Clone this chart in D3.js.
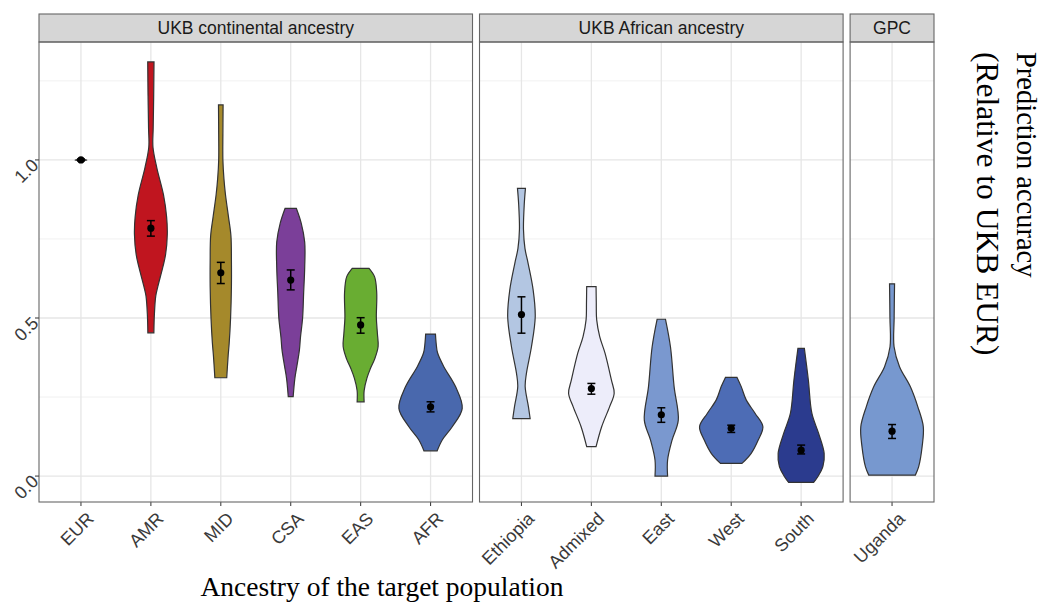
<!DOCTYPE html>
<html>
<head>
<meta charset="utf-8">
<script src="https://cdn.jsdelivr.net/npm/d3@7"></script>
<style>
  body { margin: 0; background: #fff; }
  svg text { font-family: "Liberation Sans", Arial, sans-serif; }
</style>
</head>
<body>
<svg id="chart" width="1043" height="603"></svg>
<script>
// paneles y categorías
const panels = ["UKB continental ancestry", "UKB African ancestry", "GPC"];
const groups = ["EUR", "AMR", "MID", "CSA", "EAS", "AFR", "Ethiopia", "Admixed", "East", "West", "South", "Uganda"];
const panelOf = [0, 0, 0, 0, 0, 0, 1, 1, 1, 1, 1, 2];
const fills = ["#111111", "#c0151f", "#a5892b", "#7b3f99", "#69ad32", "#4968ad",
               "#b3c6e2", "#ededfa", "#7a98cf", "#4d6cb5", "#2b3b8e", "#7798cf"];

// media y error estándar (relativo a UKB EUR)
const means = [1.000, 0.784, 0.643, 0.620, 0.478, 0.219, 0.511, 0.277, 0.194, 0.151, 0.082, 0.142];
const lower = [0.997, 0.759, 0.609, 0.589, 0.452, 0.203, 0.452, 0.259, 0.170, 0.138, 0.070, 0.119];
const upper = [1.003, 0.808, 0.676, 0.652, 0.501, 0.235, 0.567, 0.293, 0.216, 0.161, 0.098, 0.163];

// perfiles de violín: [valor, media anchura en unidades de categoría]
const violins = [
  [[1.003, 0.0], [1.0, 0.085], [0.997, 0.0]],
  [[1.31, .045], [1.20, .04], [1.10, .033], [1.04, .03], [0.975, .085], [0.89, .18], [0.82, .225], [0.765, .235], [0.70, .21], [0.66, .17], [0.60, .10], [0.57, .07], [0.51, .05], [0.453, .043]],
  [[1.174, .033], [1.08, .03], [1.0, .03], [0.94, .045], [0.89, .067], [0.82, .11], [0.76, .145], [0.68, .152], [0.60, .152], [0.50, .14], [0.42, .12], [0.38, .105], [0.311, .085]],
  [[0.847, .08], [0.80, .15], [0.74, .20], [0.66, .20], [0.58, .185], [0.50, .17], [0.44, .14], [0.40, .125], [0.35, .09], [0.31, .06], [0.251, .035]],
  [[0.657, .12], [0.63, .20], [0.58, .23], [0.50, .225], [0.45, .24], [0.41, .25], [0.37, .20], [0.34, .14], [0.31, .09], [0.27, .05], [0.235, .05]],
  [[0.449, .07], [0.42, .08], [0.39, .10], [0.346, .19], [0.283, .357], [0.214, .453], [0.156, .31], [0.114, .167], [0.08, .095]],
  [[0.91, .057], [0.86, .04], [0.78, .029], [0.72, .05], [0.673, .095], [0.589, .167], [0.504, .197], [0.409, .143], [0.325, .071], [0.283, .053], [0.219, .10], [0.182, .124]],
  [[0.599, .067], [0.55, .07], [0.494, .076], [0.44, .12], [0.388, .196], [0.304, .286], [0.262, .326], [0.219, .26], [0.156, .147], [0.093, .067]],
  [[0.496, .06], [0.409, .131], [0.283, .183], [0.177, .243], [0.114, .154], [0.051, .09], [0.0, .09]],
  [[0.312, .083], [0.283, .143], [0.241, .214], [0.198, .343], [0.156, .453], [0.114, .386], [0.072, .286], [0.04, .154]],
  [[0.404, .046], [0.304, .103], [0.198, .154], [0.135, .25], [0.072, .329], [0.029, .31], [-0.002, .238], [-0.02, .179]],
  [[0.608, .036], [0.50, .03], [0.409, .029], [0.346, .107], [0.283, .261], [0.219, .369], [0.156, .447], [0.093, .43], [0.029, .38], [0.003, .333]]
];

const yMajor = [0, 0.5, 1.0];
const yMinor = [0.25, 0.75, 1.25];
const yTickLabels = ["0.0", "0.5", "1.0"];

const svg = d3.select("#chart");
const mLeft = 39, mRight = 934, mTop = 42, mBottom = 502, gap = 7, stripH = 28;
const y = d3.scaleLinear().domain([-0.082, 1.373]).range([mBottom, mTop]);

// ancho de cada panel según número de categorías
const counts = panels.map((p, i) => panelOf.filter(k => k === i).length);
const step = (mRight - mLeft - gap * (panels.length - 1)) / d3.sum(counts, c => c + 0.2);
let cursor = mLeft;
const xs = panels.map((p, i) => {
  const w = (counts[i] + 0.2) * step;
  const cats = groups.filter((g, j) => panelOf[j] === i);
  const sc = d3.scalePoint().domain(cats).range([cursor, cursor + w]).padding(0.6);
  sc.x0 = cursor; sc.x1 = cursor + w;
  cursor += w + gap;
  return sc;
});

// fondo, rejilla, tiras
panels.forEach((p, i) => {
  const sc = xs[i];
  const g = svg.append("g");
  g.append("rect").attr("x", sc.x0).attr("y", mTop).attr("width", sc.x1 - sc.x0).attr("height", mBottom - mTop).attr("fill", "#fff");
  g.selectAll(".minor").data(yMinor).join("line")
    .attr("x1", sc.x0).attr("x2", sc.x1).attr("y1", d => y(d)).attr("y2", d => y(d))
    .attr("stroke", "#f1f1f1").attr("stroke-width", 1);
  g.selectAll(".major").data(yMajor).join("line")
    .attr("x1", sc.x0).attr("x2", sc.x1).attr("y1", d => y(d)).attr("y2", d => y(d))
    .attr("stroke", "#e6e6e6").attr("stroke-width", 1.3);
  g.selectAll(".vx").data(sc.domain()).join("line")
    .attr("x1", d => sc(d)).attr("x2", d => sc(d)).attr("y1", mTop).attr("y2", mBottom)
    .attr("stroke", "#e6e6e6").attr("stroke-width", 1.3);
  // tira superior
  g.append("rect").attr("x", sc.x0).attr("y", mTop - stripH).attr("width", sc.x1 - sc.x0).attr("height", stripH)
    .attr("fill", "#d6d6d6").attr("stroke", "#666").attr("stroke-width", 1.1);
  g.append("text").attr("x", (sc.x0 + sc.x1) / 2).attr("y", mTop - stripH / 2).attr("dy", "0.36em")
    .attr("text-anchor", "middle").attr("font-size", 17.5).attr("fill", "#1a1a1a").text(p);
  // marcas del eje x
  g.selectAll(".tk").data(sc.domain()).join("line")
    .attr("x1", d => sc(d)).attr("x2", d => sc(d)).attr("y1", mBottom).attr("y2", mBottom + 4)
    .attr("stroke", "#444").attr("stroke-width", 1.1);
  g.selectAll(".lab").data(sc.domain()).join("text")
    .attr("transform", d => `translate(${sc(d) + 5},${mBottom + 9}) rotate(-45)`)
    .attr("text-anchor", "end").attr("dy", "0.7em")
    .attr("font-size", 18).attr("fill", "#3a3a3a").text(d => d);
});

// violines
const area = d3.area().curve(d3.curveCatmullRom.alpha(0.5));
groups.forEach((gname, j) => {
  const sc = xs[panelOf[j]];
  const cx = sc(gname);
  area.y(d => y(d[0])).x0(d => cx - d[1] * step).x1(d => cx + d[1] * step);
  svg.append("path").datum(violins[j]).attr("d", area)
    .attr("fill", fills[j]).attr("stroke", "#333").attr("stroke-width", 1.2);
  // barra de error y punto
  svg.append("line").attr("x1", cx).attr("x2", cx).attr("y1", y(lower[j])).attr("y2", y(upper[j]))
    .attr("stroke", "#000").attr("stroke-width", 1.5);
  [lower[j], upper[j]].forEach(v => {
    svg.append("line").attr("x1", cx - 4).attr("x2", cx + 4).attr("y1", y(v)).attr("y2", y(v))
      .attr("stroke", "#000").attr("stroke-width", 1.5);
  });
  svg.append("circle").attr("cx", cx).attr("cy", y(means[j])).attr("r", 3.6).attr("fill", "#000");
});

// bordes de panel
xs.forEach(sc => {
  svg.append("rect").attr("x", sc.x0).attr("y", mTop).attr("width", sc.x1 - sc.x0).attr("height", mBottom - mTop)
    .attr("fill", "none").attr("stroke", "#666").attr("stroke-width", 1.1);
});

// eje y
const ay = svg.append("g");
ay.selectAll("line").data(yMajor).join("line")
  .attr("x1", mLeft - 4).attr("x2", mLeft).attr("y1", d => y(d)).attr("y2", d => y(d))
  .attr("stroke", "#444").attr("stroke-width", 1.1);
ay.selectAll("text").data(yMajor).join("text")
  .attr("transform", (d, i) => `translate(${mLeft - 4},${y(d) + 2}) rotate(-45)`)
  .attr("text-anchor", "end").attr("dy", "0.35em")
  .attr("font-size", 18).attr("fill", "#3a3a3a").text((d, i) => yTickLabels[i]);

// títulos
svg.append("text").attr("x", 382).attr("y", 596).attr("text-anchor", "middle")
  .style("font-family", "'Liberation Serif', 'Times New Roman', serif")
  .attr("font-size", 27.5).attr("fill", "#000").text("Ancestry of the target population");
const yt = svg.append("text").attr("transform", "translate(1017,52) rotate(90)")
  .style("font-family", "'Liberation Serif', 'Times New Roman', serif")
  .attr("fill", "#000");
yt.append("tspan").attr("x", 0).attr("y", 0).attr("font-size", 28.5).text("Prediction accuracy");
yt.append("tspan").attr("x", 0).attr("y", 40).attr("font-size", 31.5).text("(Relative to UKB EUR)");
</script>
</body>
</html>
